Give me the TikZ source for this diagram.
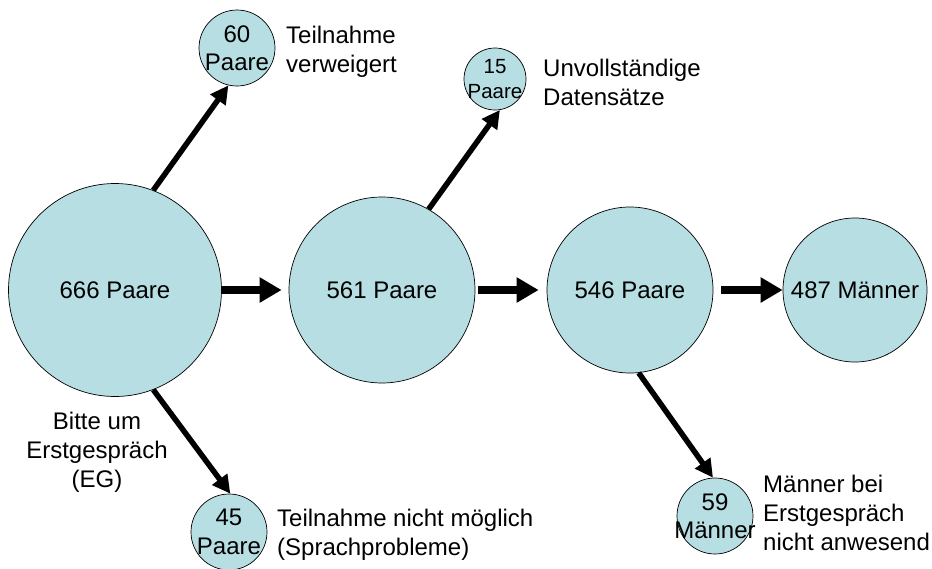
\documentclass[tikz,border=0pt]{standalone}
\usepackage{fontspec}
\setmainfont{Liberation Sans}
\usetikzlibrary{arrows.meta}
\definecolor{ballfill}{RGB}{183,222,226}
\begin{document}
\begin{tikzpicture}[x=1pt,y=-1pt,
  ball/.style={circle,draw=black,line width=0.7pt,fill=ballfill,inner sep=0pt,minimum size=#1},
  bigtext/.style={font=\fontsize{24}{28.5}\selectfont,align=center,inner sep=0pt},
  smalltext/.style={font=\fontsize{20.5}{25}\selectfont,align=center,inner sep=0pt},
  side/.style={font=\fontsize{24}{29}\selectfont,align=left,inner sep=0pt,anchor=base west},
  flow/.style={line width=8.5pt,-{Triangle[length=22pt,width=24pt]}},
  drop/.style={line width=5.5pt,-{Triangle[length=18pt,width=18pt]}},
]
\path[use as bounding box] (0,0) rectangle (932,568);

% main chain
\node[ball=213pt,bigtext] (n666) at (115,290) {666 Paare};
\node[ball=186pt,bigtext] (n561) at (382,290) {561 Paare};
\node[ball=166pt,bigtext] (n546) at (630,290) {546 Paare};
\node[ball=144pt,bigtext] (n487) at (855,290) {487 Männer};

% drop-outs
\node[ball=76pt,label={[bigtext]center:{60\\Paare}}] (n60) at (237,48) {};
\node[ball=62pt,label={[smalltext]center:{15\\Paare}}] (n15) at (495,79) {};
\node[ball=76pt,label={[bigtext]center:{45\\Paare}}] (n45) at (229,532) {};
\node[ball=76pt,label={[bigtext]center:{59\\Männer}}] (n59) at (715,516) {};

% connectors
\draw[flow,shorten >=7pt] (n666.east) -- (n561.west);
\draw[flow,shorten <=3pt,shorten >=8pt] (n561.east) -- (n546.west);
\draw[flow,shorten <=8pt] (n546.east) -- (n487.west);
\draw[drop] (n666.69) -- (n60.257);
\draw[drop] (n561.60) -- (n15.279);
\draw[drop] (n666.291) -- (n45.88);
\draw[drop] (n546.276) -- (n59.93);

% annotations (base anchor sits on the last line)
\node[side] (t60) at (286,72) {Teilnahme\\verweigert};
\node[side] (t15) at (543,105) {Unvollständige\\Datensätze};
\node[side] (t45) at (277,555) {Teilnahme nicht möglich\\(Sprachprobleme)};
\node[side] (t59) at (763,550) {Männer bei\\Erstgespräch\\nicht anwesend};
\node[side,align=center,anchor=base] (teg) at (97,487) {Bitte um\\Erstgespräch\\(EG)};
\end{tikzpicture}
\end{document}
